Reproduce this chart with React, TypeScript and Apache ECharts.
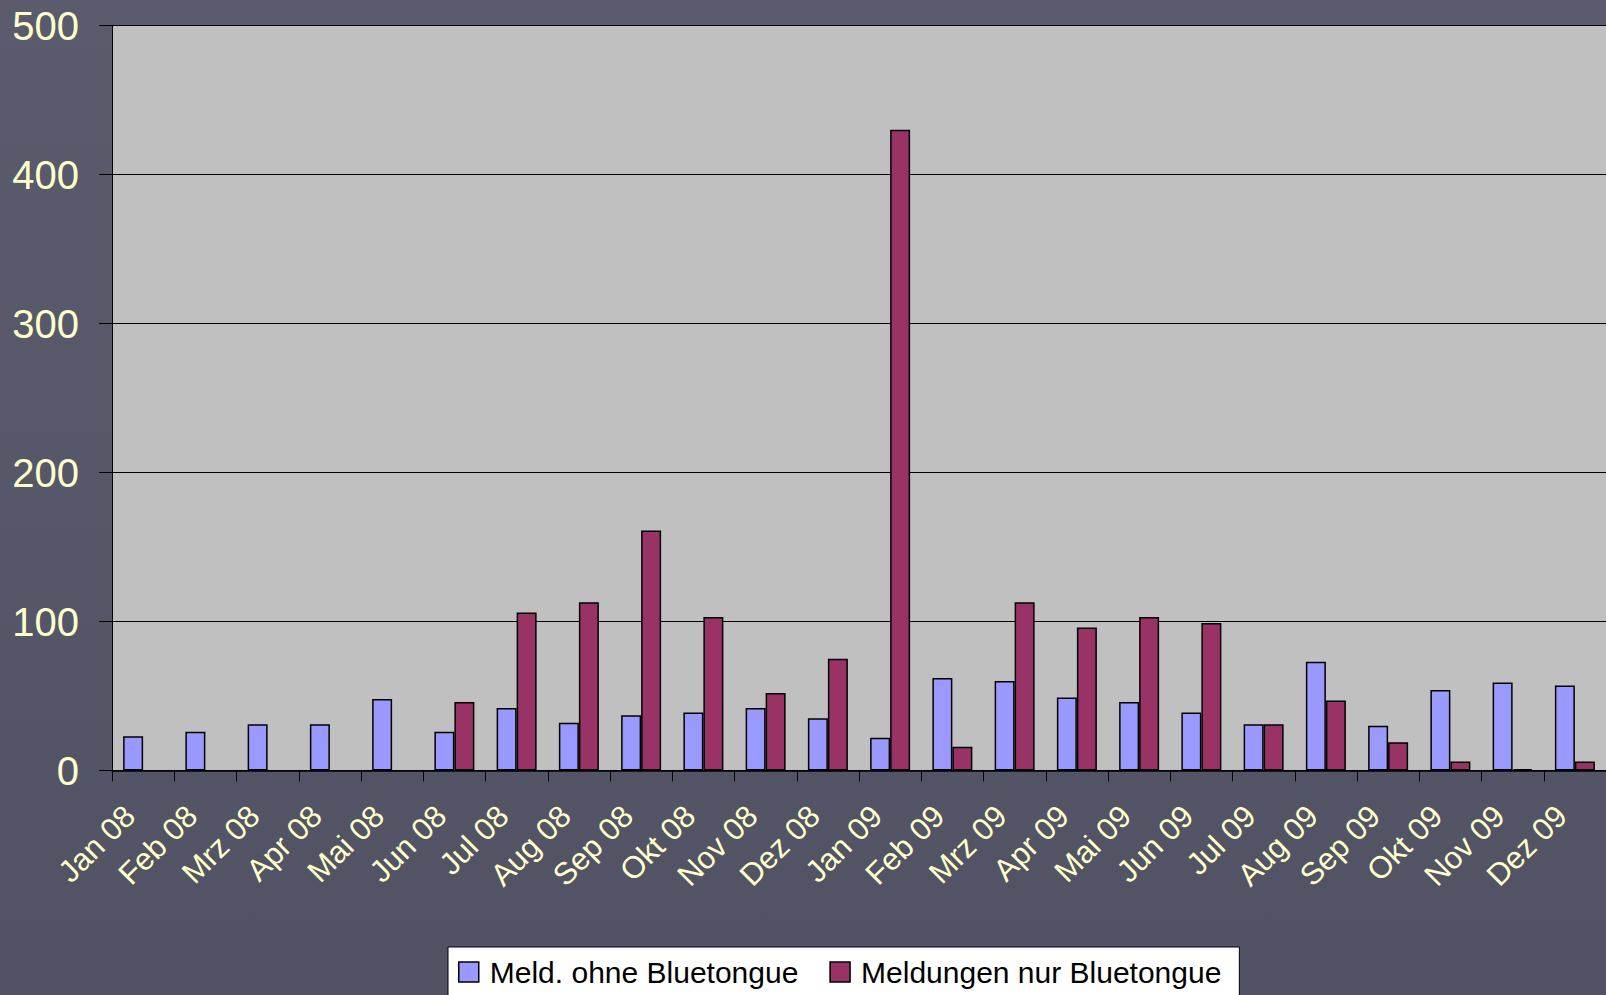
import React, { useEffect, useRef } from "react";
import * as echarts from "echarts";

const categories = [
  "Jan 08", "Feb 08", "Mrz 08", "Apr 08", "Mai 08", "Jun 08", "Jul 08", "Aug 08",
  "Sep 08", "Okt 08", "Nov 08", "Dez 08", "Jan 09", "Feb 09", "Mrz 09", "Apr 09",
  "Mai 09", "Jun 09", "Jul 09", "Aug 09", "Sep 09", "Okt 09", "Nov 09", "Dez 09",
];
const meldOhne = [23, 26, 31, 31, 48, 26, 42, 32, 37, 39, 42, 35, 22, 62, 60, 49, 46, 39, 31, 73, 30, 54, 59, 57];
const meldNur = [null, null, null, null, null, 46, 106, 113, 161, 103, 52, 75, 430, 16, 113, 96, 103, 99, 31, 47, 19, 6, 1, 6];
const yTicks = [0, 100, 200, 300, 400, 500];

const FONT = "'Liberation Sans', Arial, sans-serif";
const TEXT = "#FFFFCC";

export default function App() {
  const ref = useRef<HTMLDivElement>(null);
  useEffect(() => {
    if (!ref.current) return;
    const chart = echarts.init(ref.current, null, { renderer: "svg" });
    chart.setOption({
      animation: false,
      backgroundColor: {
        type: "linear", x: 0, y: 0, x2: 0, y2: 1,
        colorStops: [
          { offset: 0, color: "#5a5c6e" },
          { offset: 1, color: "#515364" },
        ],
      },
      grid: {
        left: 112, right: -1, top: 25.5, bottom: 224.5,
        show: true, backgroundColor: "#C0C0C0", borderWidth: 0,
      },
      legend: {
        left: 448, top: 947,
        backgroundColor: "#FFFFFF", borderColor: "#000000", borderWidth: 1,
        padding: [10, 18, 20, 10],
        itemWidth: 20, itemHeight: 20, itemGap: 31,
        icon: "rect",
        itemStyle: { borderColor: "#000", borderWidth: 1.5 },
        textStyle: { fontFamily: FONT, fontSize: 30, color: "#000", lineHeight: 30, padding: [0, 0, 0, 6] },
        data: ["Meld. ohne Bluetongue", "Meldungen nur Bluetongue"],
      },
      xAxis: {
        type: "category",
        data: categories,
        boundaryGap: true,
        axisLine: { show: true, lineStyle: { color: "#000", width: 1.5 } },
        axisTick: { show: true, length: 11, lineStyle: { color: "#000", width: 1 } },
        axisLabel: {
          interval: 0, rotate: 45, margin: 27, padding: [0, 19, 0, 0],
          color: TEXT, fontFamily: FONT, fontSize: 31,
        },
      },
      yAxis: {
        type: "value",
        min: yTicks[0], max: yTicks[yTicks.length - 1], interval: 100,
        axisLine: { show: true, lineStyle: { color: "#000", width: 1 } },
        axisTick: { show: true, length: 13, lineStyle: { color: "#000" } },
        axisLabel: { margin: 33, color: TEXT, fontFamily: FONT, fontSize: 40 },
        splitLine: { show: true, lineStyle: { color: "#000", width: 1 } },
      },
      series: [
        {
          name: "Meld. ohne Bluetongue", type: "bar", data: meldOhne,
          barWidth: 20, barGap: "0%",
          itemStyle: { color: "#9999FF", borderColor: "#000", borderWidth: 1.5 },
        },
        {
          name: "Meldungen nur Bluetongue", type: "bar", data: meldNur,
          barWidth: 20, barGap: "0%",
          itemStyle: { color: "#993366", borderColor: "#000", borderWidth: 1.5 },
        },
      ],
    });
    return () => chart.dispose();
  }, []);
  return (
    <div
      ref={ref}
      style={{ position: "fixed", left: 0, top: 0, width: 1606, height: 995 }}
    />
  );
}
